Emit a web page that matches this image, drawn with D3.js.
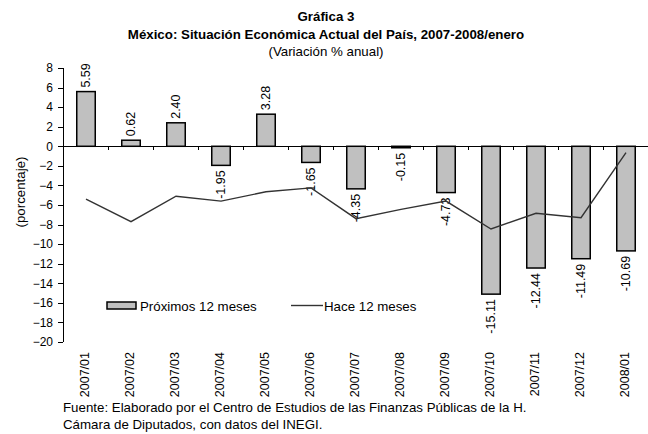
<!DOCTYPE html>
<html>
<head>
  <meta charset="utf-8">
  <style>
    body {
      margin: 0;
      background: #fff;
    }

    svg text {
      font-family: "Liberation Sans", Arial, sans-serif;
      fill: #000;
    }

    .title {
      font-size: 13.3px;
      font-weight: bold;
      text-anchor: middle;
    }

    .subtitle {
      font-size: 13.3px;
      text-anchor: middle;
    }

    .bar {
      fill: #c0c0c0;
      stroke: #000;
      stroke-width: 1.5px;
    }

    .line {
      fill: none;
      stroke: #333;
      stroke-width: 1.4px;
    }

    .axis path,
    .axis line {
      stroke: #000;
      shape-rendering: crispEdges;
    }

    .axis text {
      font-size: 12px;
    }

    .value-label,
    .cat-label {
      font-size: 12.5px;
    }

    .legend text,
    .note {
      font-size: 13.3px;
    }
  </style>
</head>
<body>
  <div id="chart"></div>
  <script src="https://cdn.jsdelivr.net/npm/d3@7"></script>
  <script>
    var categories = ["2007/01", "2007/02", "2007/03", "2007/04", "2007/05", "2007/06", "2007/07",
      "2007/08", "2007/09", "2007/10", "2007/11", "2007/12", "2008/01"];
    var proximos = [5.59, 0.62, 2.40, -1.95, 3.28, -1.65, -4.35, -0.15, -4.73, -15.11, -12.44, -11.49, -10.69];
    var hace = [-5.4, -7.7, -5.1, -5.6, -4.65, -4.25, -7.4, -6.45, -5.6, -8.45, -6.85, -7.3, -0.65];
    var yTicks = [8, 6, 4, 2, 0, -2, -4, -6, -8, -10, -12, -14, -16, -18, -20];
    var seriesNames = ["Próximos 12 meses", "Hace 12 meses"];

    var width = 648,
      height = 434;

    var svg = d3.select("#chart").append("svg")
      .attr("width", width)
      .attr("height", height);

    var x = d3.scaleBand()
      .domain(categories)
      .range([63, 648])
      .padding(0);

    var y = d3.scaleLinear()
      .domain([-20, 8])
      .range([342, 68]);

    var barW = 18.5;

    // titles
    svg.append("text").attr("class", "title").attr("x", 326).attr("y", 21).text("Gráfica 3");
    svg.append("text").attr("class", "title").attr("x", 326).attr("y", 39)
      .text("México: Situación Económica Actual del País, 2007-2008/enero");
    svg.append("text").attr("class", "subtitle").attr("x", 326).attr("y", 56).text("(Variación % anual)");

    // y axis
    svg.append("g")
      .attr("class", "axis")
      .attr("transform", "translate(63,0)")
      .call(d3.axisLeft(y).tickValues(yTicks).tickSize(5).tickPadding(5).tickFormat(d3.format("d")))
      .call(function (g) { g.select(".domain").attr("d", "M0," + y(8) + "V" + y(-20)); });

    svg.append("text")
      .attr("transform", "translate(20,192) rotate(-90)")
      .attr("text-anchor", "middle")
      .attr("dy", "0.35em")
      .style("font-size", "13.3px")
      .text("(porcentaje)");

    // bars
    svg.selectAll(".bar")
      .data(proximos)
      .enter().append("rect")
      .attr("class", "bar")
      .attr("x", function (d, i) { return x(categories[i]) + x.bandwidth() / 2 - barW / 2 + 0.5; })
      .attr("y", function (d) { return y(Math.max(0, d)); })
      .attr("width", barW)
      .attr("height", function (d) { return Math.abs(y(d) - y(0)); });

    // zero line with ticks between categories
    var xAxis = svg.append("g").attr("class", "axis");
    xAxis.append("line")
      .attr("x1", 63).attr("x2", 648)
      .attr("y1", y(0)).attr("y2", y(0));
    xAxis.selectAll(".tk")
      .data(categories.slice(1).concat(["end"]))
      .enter().append("line")
      .attr("class", "tk")
      .attr("x1", function (d, i) { return 63 + x.bandwidth() * (i + 1); })
      .attr("x2", function (d, i) { return 63 + x.bandwidth() * (i + 1); })
      .attr("y1", y(0)).attr("y2", y(0) + 4);

    // value labels
    svg.selectAll(".value-label")
      .data(proximos)
      .enter().append("text")
      .attr("class", "value-label")
      .attr("transform", function (d, i) {
        var cx = x(categories[i]) + x.bandwidth() / 2 + 0.5;
        var cy = d >= 0 ? y(d) - 4 : y(d) + 5;
        return "translate(" + cx + "," + cy + ") rotate(-90)";
      })
      .attr("dy", "0.35em")
      .attr("text-anchor", function (d) { return d >= 0 ? "start" : "end"; })
      .text(function (d) { return d.toFixed(2); });

    // line
    var line = d3.line()
      .x(function (d, i) { return x(categories[i]) + x.bandwidth() / 2 + 0.5; })
      .y(function (d) { return y(d); });

    svg.append("path")
      .datum(hace)
      .attr("class", "line")
      .attr("d", line);

    // category labels
    svg.selectAll(".cat-label")
      .data(categories)
      .enter().append("text")
      .attr("class", "cat-label")
      .attr("transform", function (d) {
        return "translate(" + (x(d) + x.bandwidth() / 2 - 1) + ",352) rotate(-90)";
      })
      .attr("dy", "0.35em")
      .attr("text-anchor", "end")
      .text(function (d) { return d; });

    // legend
    var legend = svg.append("g").attr("class", "legend");
    legend.append("rect")
      .attr("class", "bar")
      .attr("x", 107).attr("y", 302)
      .attr("width", 29).attr("height", 7);
    legend.append("text").attr("x", 140).attr("y", 310.5).text(seriesNames[0]);
    legend.append("line")
      .attr("class", "line")
      .attr("x1", 291).attr("x2", 323)
      .attr("y1", 305.5).attr("y2", 305.5);
    legend.append("text").attr("x", 324).attr("y", 310.5).text(seriesNames[1]);

    // note
    svg.append("text").attr("class", "note").attr("x", 63).attr("y", 412)
      .text("Fuente: Elaborado por el Centro de Estudios de las Finanzas Públicas de la H.");
    svg.append("text").attr("class", "note").attr("x", 63).attr("y", 429)
      .text("Cámara de Diputados, con datos del INEGI.");
  </script>
</body>
</html>
